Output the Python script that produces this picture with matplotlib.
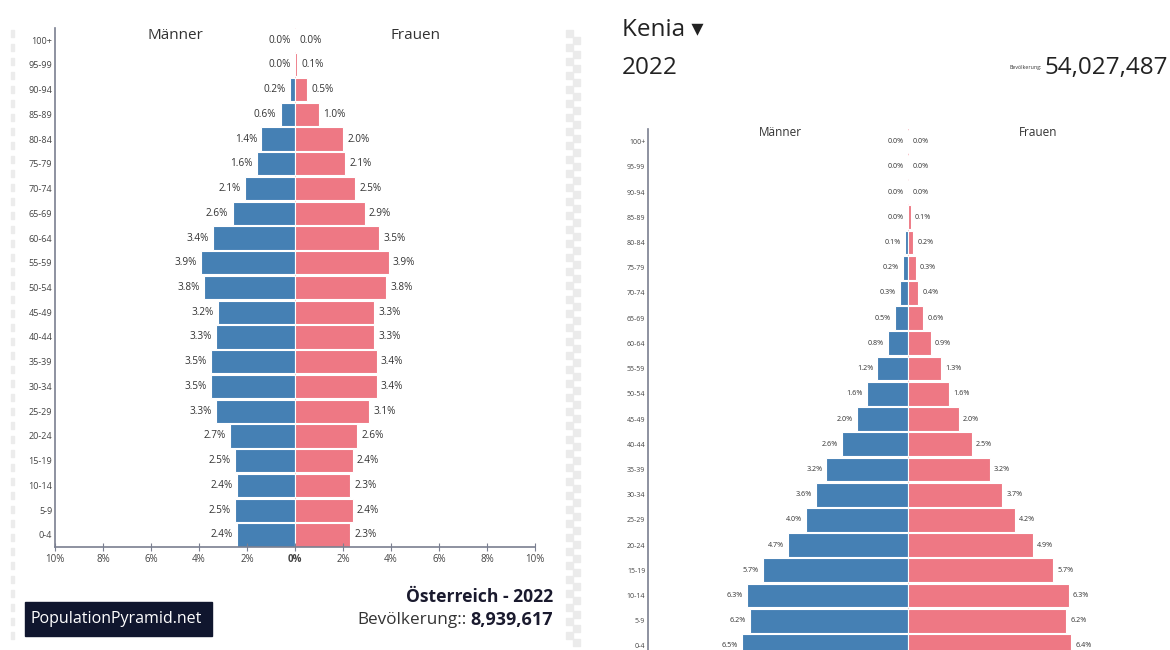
"""Two population pyramids side by side: Austria and Kenya, 2022."""
import numpy as np
import matplotlib.pyplot as plt
from matplotlib.patches import Rectangle, FancyBboxPatch

plt.rcParams['font.family'] = ['Open Sans', 'DejaVu Sans']

ages = ["0-4", "5-9", "10-14", "15-19", "20-24", "25-29", "30-34", "35-39",
        "40-44", "45-49", "50-54", "55-59", "60-64", "65-69", "70-74",
        "75-79", "80-84", "85-89", "90-94", "95-99", "100+"]

# Austria 2022, percent of total population
at_men = [2.4, 2.5, 2.4, 2.5, 2.7, 3.3, 3.5, 3.5, 3.3, 3.2, 3.8, 3.9, 3.4,
          2.6, 2.1, 1.6, 1.4, 0.6, 0.2, 0.0, 0.0]
at_women = [2.3, 2.4, 2.3, 2.4, 2.6, 3.1, 3.4, 3.4, 3.3, 3.3, 3.8, 3.9, 3.5,
            2.9, 2.5, 2.1, 2.0, 1.0, 0.5, 0.1, 0.0]

# Kenya 2022
ke_men = [6.5, 6.2, 6.3, 5.7, 4.7, 4.0, 3.6, 3.2, 2.6, 2.0, 1.6, 1.2, 0.8,
          0.5, 0.3, 0.2, 0.1, 0.0, 0.0, 0.0, 0.0]
ke_women = [6.4, 6.2, 6.3, 5.7, 4.9, 4.2, 3.7, 3.2, 2.5, 2.0, 1.6, 1.3, 0.9,
            0.6, 0.4, 0.3, 0.2, 0.1, 0.0, 0.0, 0.0]

x_ticks = [-10, -8, -6, -4, -2, 0, 2, 4, 6, 8, 10]

MEN = "#4580b4"
WOMEN = "#ee7884"
W, H = 1170, 650


def px_axes(fig, x0, y0, x1, y1):
    """Add axes given pixel box (top-left origin)."""
    return fig.add_axes([x0 / W, 1 - y1 / H, (x1 - x0) / W, (y1 - y0) / H])


def pyramid(ax, men, women, fs_lab, fs_age, off):
    y = np.arange(len(ages))
    men = np.array(men)
    women = np.array(women)
    ax.barh(y, -men, height=0.94, color=MEN, edgecolor="white", linewidth=0.8)
    ax.barh(y, women, height=0.94, color=WOMEN, edgecolor="white", linewidth=0.8)
    ax.axvline(0, color=WOMEN, lw=0.6, alpha=0.5, zorder=0)
    for i in range(len(ages)):
        ax.annotate(f"{men[i]:.1f}%", (-men[i], y[i]), xytext=(-off, 0),
                    textcoords="offset points", ha="right", va="center",
                    fontsize=fs_lab, color="#333333")
        ax.annotate(f"{women[i]:.1f}%", (women[i], y[i]), xytext=(off, 0),
                    textcoords="offset points", ha="left", va="center",
                    fontsize=fs_lab, color="#333333")
    ax.set_yticks(y)
    ax.set_yticklabels(ages, fontsize=fs_age, color="#444444")
    ax.tick_params(axis="y", length=0, pad=2)
    for s in ["top", "right"]:
        ax.spines[s].set_visible(False)
    ax.spines["left"].set_color("#7a7f90")
    ax.spines["left"].set_linewidth(1.2)


def label_before(fig, txt, label, fs, color, gap=3):
    """Put a label to the left of an already placed right-aligned text."""
    r = fig.canvas.get_renderer()
    bb = txt.get_window_extent(renderer=r)
    y = txt.get_position()[1]
    fig.text((bb.x0 - gap) / W, y, label, ha="right", va="center",
             fontsize=fs, color=color)


fig = plt.figure(figsize=(W / 100, H / 100), dpi=100)
fig.patch.set_facecolor("white")

# checkerboard strip between panels and dashed strip on far left
for k in range(90):
    yy = 30 + k * 7
    if yy > 640:
        break
    xx = 566 if k % 2 == 0 else 573
    fig.patches.append(Rectangle((xx / W, 1 - (yy + 7) / H), 7 / W, 7 / H,
                                 transform=fig.transFigure, color="#ebebeb",
                                 zorder=0))
    if k % 2 == 0:
        fig.patches.append(Rectangle((11 / W, 1 - (yy + 7) / H), 3 / W, 7 / H,
                                     transform=fig.transFigure,
                                     color="#ececec", zorder=0))

# ---- Austria ----
ax1 = px_axes(fig, 55, 28, 535, 547)
pyramid(ax1, at_men, at_women, 7.2, 6.5, 3)
ax1.set_xlim(-10, 10)
ax1.set_ylim(-0.485, 20.485)
ax1.set_xticks(x_ticks)
ax1.set_xticklabels([f"{abs(t)}%" for t in x_ticks], fontsize=7,
                    color="#444444")
ax1.get_xticklabels()[5].set_fontweight("bold")
ax1.tick_params(axis="x", direction="inout", length=6, color="#7a7f90", pad=2)
ax1.spines["bottom"].set_color("#7a7f90")
ax1.spines["bottom"].set_linewidth(1.2)
ax1.text(-5, 20.2, "Männer", ha="center", va="center", fontsize=11,
         color="#333333")
ax1.text(5, 20.2, "Frauen", ha="center", va="center", fontsize=11,
         color="#333333")

fig.text(553 / W, 1 - 597 / H, "Österreich - 2022", ha="right", va="center",
         fontsize=12.6, fontweight="bold", color="#1a1a2e")
pop_at = fig.text(553 / W, 1 - 620 / H, "8,939,617", ha="right", va="center",
                  fontsize=13, fontweight="bold", color="#1a1a2e")
label_before(fig, pop_at, "Bevölkerung::", 12.3, "#333333", gap=4)
fig.patches.append(FancyBboxPatch((25 / W, 1 - 636 / H), 187 / W, 34 / H,
                                  boxstyle="square,pad=0",
                                  transform=fig.transFigure,
                                  color="#10162e", zorder=1))
fig.text(116 / W, 1 - 619 / H, "PopulationPyramid.net", ha="center",
         va="center", fontsize=11.5, color="white", zorder=2)

# ---- Kenya ----
ax2 = px_axes(fig, 648, 129, 1168, 650)
pyramid(ax2, ke_men, ke_women, 5.2, 5.0, 3)
ax2.set_xlim(-10.2, 10.2)
ax2.set_ylim(-0.16, 20.5)
ax2.set_xticks([])
ax2.spines["bottom"].set_visible(False)
ax2.text(-5, 20.36, "Männer", ha="center", va="center", fontsize=8.5,
         color="#333333")
ax2.text(5.1, 20.36, "Frauen", ha="center", va="center", fontsize=8.5,
         color="#333333")

fig.text(622 / W, 1 - 30 / H, "Kenia ▾", ha="left", va="center",
         fontsize=17.5, color="#222222")
fig.text(622 / W, 1 - 68 / H, "2022", ha="left", va="center",
         fontsize=17.5, color="#222222")
pop_ke = fig.text(1168 / W, 1 - 68 / H, "54,027,487", ha="right",
                  va="center", fontsize=17.5, color="#222222")
label_before(fig, pop_ke, "Bevölkerung:", 3.8, "#333333", gap=3)

fig.savefig("out.png", dpi=100)
